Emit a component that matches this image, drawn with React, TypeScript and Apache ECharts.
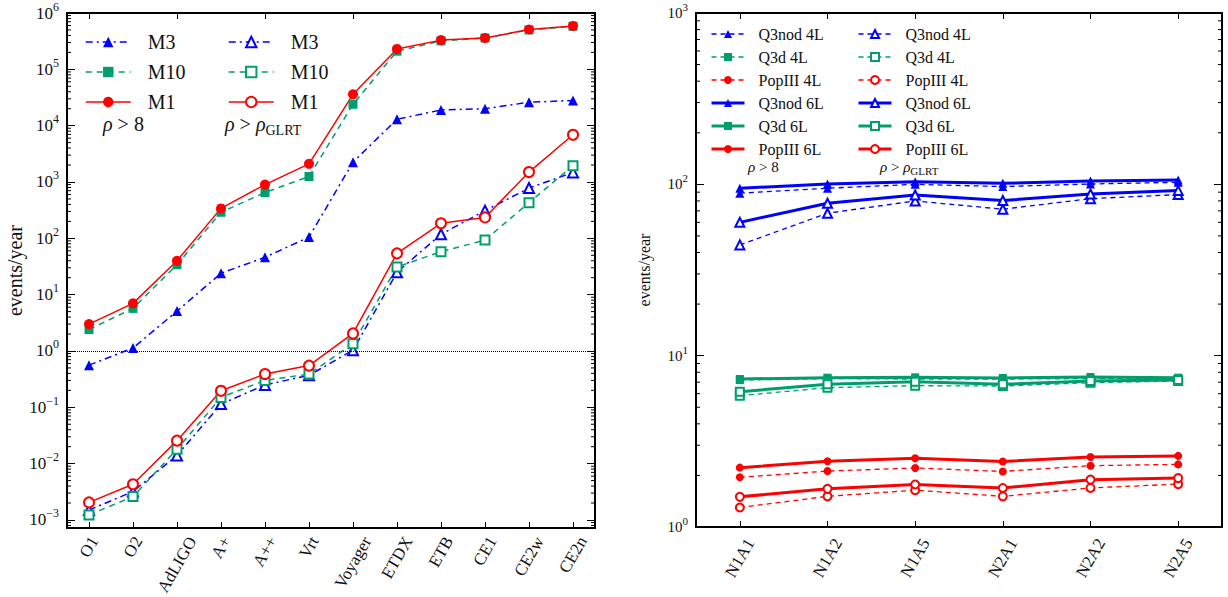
import React, { useEffect, useRef } from "react";
import * as echarts from "echarts";

// ---------------- data ----------------
const leftCategories = ["O1", "O2", "AdLIGO", "A+", "A++", "Vrt", "Voyager", "ETDX", "ETB", "CE1", "CE2w", "CE2n"];
const m3Snr8 = [0.56, 1.13, 5.1, 24, 46, 105, 2250, 13000, 19000, 20000, 26000, 28000];
const m10Snr8 = [2.4, 5.7, 34, 290, 650, 1250, 24000, 210000, 320000, 360000, 500000, 580000];
const m1Snr8 = [3.0, 7.0, 40, 340, 900, 2100, 36000, 230000, 330000, 360000, 510000, 590000];
const m3Glrt = [0.0015, 0.0032, 0.014, 0.114, 0.25, 0.37, 1.03, 25, 118, 310, 780, 1480];
const m10Glrt = [0.00123, 0.0026, 0.018, 0.15, 0.3, 0.39, 1.35, 31, 58, 93, 430, 1950];
const m1Glrt = [0.00205, 0.0043, 0.0256, 0.197, 0.39, 0.55, 2.05, 54, 185, 235, 1500, 6900];

const rightCategories = ["N1A1", "N1A2", "N1A5", "N2A1", "N2A2", "N2A5"];
const q3nod4LSnr8 = [88.7, 94.9, 100, 97, 100.5, 102.8];
const q3d4LSnr8 = [7.2, 7.35, 7.3, 7.3, 7.35, 7.35];
const pop4LSnr8 = [1.95, 2.12, 2.21, 2.11, 2.28, 2.32];
const q3nod6LSnr8 = [94.9, 100.5, 103.7, 101.4, 104.7, 106];
const q3d6LSnr8 = [7.31, 7.44, 7.48, 7.41, 7.51, 7.44];
const pop6LSnr8 = [2.22, 2.42, 2.52, 2.41, 2.56, 2.6];
const q3nod4LGlrt = [44.3, 67.8, 80, 71.6, 82.5, 87.1];
const q3d4LGlrt = [5.84, 6.5, 6.68, 6.65, 6.96, 7.11];
const pop4LGlrt = [1.3, 1.51, 1.64, 1.51, 1.69, 1.78];
const q3nod6LGlrt = [60, 77.6, 86.7, 80.4, 87.9, 91.9];
const q3d6LGlrt = [6.16, 6.81, 7.05, 6.81, 7.11, 7.21];
const pop6LGlrt = [1.5, 1.67, 1.77, 1.69, 1.89, 1.93];

const leftYMin = 0.00072;
const leftYMax = 1e6;
const rightYMin = 1;
const rightYMax = 1000;

// ---------------- style ----------------
const SERIF = '"Liberation Serif", "DejaVu Serif", serif';
const TXT = "#111";
const BLUE = "#0000ff";
const GREEN = "#009e6e";
const RED = "#ff0000";
const ZW = "\u200b";

function logLabel(v: number) {
  const e = Math.log10(v);
  const r = Math.round(e);
  if (Math.abs(e - r) > 1e-6) return "";
  const s = r < 0 ? "\u2212" + -r : String(r);
  return `{b|10}{s|${s}}`;
}

function logRich(size: number) {
  return {
    b: { fontSize: size, fontFamily: SERIF, color: TXT, lineHeight: size + 8 },
    s: { fontSize: Math.round(size * 0.7), fontFamily: SERIF, color: TXT, verticalAlign: "top" as const },
  };
}

function rotatedLabels(cats: string[], size: number) {
  const ctx = document.createElement("canvas").getContext("2d")!;
  ctx.font = `${size}px ${SERIF}`;
  const rich: Record<string, any> = {};
  cats.forEach((c, i) => {
    const L = ctx.measureText(c).width;
    rich["c" + i] = {
      fontSize: size,
      fontFamily: SERIF,
      color: TXT,
      padding: [0.433 * L, 0.75 * L, 0, 0],
    };
  });
  return { rich, formatter: (v: string, i: number) => `{c${i}|${v}}` };
}

function minorValues(min: number, max: number) {
  const out: number[][] = [];
  for (let e = Math.floor(Math.log10(min)); e < Math.ceil(Math.log10(max)); e++) {
    for (let m = 2; m <= 9; m++) {
      const v = m * Math.pow(10, e);
      if (v > min && v < max) out.push([0, v]);
    }
  }
  return out;
}

function minorSeries(xi: number, yi: number, min: number, max: number) {
  return {
    type: "custom",
    xAxisIndex: xi,
    yAxisIndex: yi,
    silent: true,
    z: 10,
    data: minorValues(min, max),
    renderItem: (params: any, api: any) => {
      const y = api.coord([0, api.value(1)])[1];
      const cs = params.coordSys;
      const st = { stroke: "#000", lineWidth: 1 };
      return {
        type: "group",
        children: [
          { type: "line", shape: { x1: cs.x, y1: y, x2: cs.x + 4, y2: y }, style: st },
          { type: "line", shape: { x1: cs.x + cs.width - 4, y1: y, x2: cs.x + cs.width, y2: y }, style: st },
        ],
      };
    },
  };
}

function line(
  name: string,
  data: number[],
  color: string,
  symbol: string,
  dash: any,
  width: number,
  size: number,
  xi: number,
  yi: number,
  extra: any = {}
) {
  const empty = symbol.startsWith("empty");
  return {
    type: "line",
    name,
    data,
    xAxisIndex: xi,
    yAxisIndex: yi,
    symbol,
    symbolSize: size,
    showAllSymbol: true,
    silent: true,
    lineStyle: { color, width, type: dash },
    itemStyle: { color, borderColor: color, borderWidth: empty ? 1.3 : 0 },
    emphasis: { disabled: true },
    ...extra,
  };
}

function catAxis(cats: string[], gi: number, pos: "bottom" | "top", labelSize: number, margin: number) {
  const lab = rotatedLabels(cats, labelSize);
  return {
    type: "category",
    gridIndex: gi,
    position: pos,
    data: cats,
    boundaryGap: true,
    axisLine: { show: true, onZero: false, lineStyle: { color: "#000", width: 2 } },
    axisTick: { show: true, inside: true, alignWithLabel: true, length: 6, lineStyle: { color: "#000", width: 1 } },
    axisLabel:
      pos === "bottom"
        ? {
            show: true,
            interval: 0,
            rotate: 60,
            align: "center",
            verticalAlign: "middle",
            margin,
            rich: lab.rich,
            formatter: lab.formatter,
          }
        : { show: false },
    splitLine: { show: false },
  };
}

function logAxis(gi: number, pos: "left" | "right", min: number, max: number, labelSize: number, nameSize: number, nameGap: number) {
  return {
    type: "log",
    logBase: 10,
    gridIndex: gi,
    position: pos,
    min,
    max,
    splitNumber: 10,
    name: pos === "left" ? "events/year" : "",
    nameLocation: "middle",
    nameGap,
    nameTextStyle: { fontFamily: SERIF, fontSize: nameSize, color: TXT },
    axisLine: { show: true, lineStyle: { color: "#000", width: 2 } },
    axisTick: { show: true, inside: true, length: 8, lineStyle: { color: "#000", width: 1 } },
    axisLabel:
      pos === "left"
        ? { show: true, margin: 8, formatter: logLabel, rich: logRich(labelSize) }
        : { show: false },
    splitLine: { show: false },
    minorTick: { show: false },
  };
}

const legendFormatter = (n: string) => `{t|${n.replace(/\u200b/g, "")}}`;

function legend(names: string[], left: number, top: number, itemWidth: number, itemHeight: number, itemGap: number, font: number, pad: number) {
  return {
    data: names,
    orient: "vertical",
    left,
    top,
    itemWidth,
    itemHeight,
    itemGap,
    selectedMode: false,
    padding: 0,
    lineStyle: { width: "inherit" },
    formatter: legendFormatter,
    textStyle: {
      fontFamily: SERIF,
      fontSize: font,
      color: TXT,
      rich: { t: { fontFamily: SERIF, fontSize: font, color: TXT, padding: [0, 0, 0, pad] } },
    },
  };
}

function rhoText(x: number, y: number, size: number, glrt: boolean) {
  return {
    type: "text",
    left: x,
    top: y - size * 0.6,
    silent: true,
    style: {
      text: glrt ? "{i|ρ} {n|>} {i|ρ}{g|GLRT}" : "{i|ρ} {n|>} {n|8}",
      fontFamily: SERIF,
      fontSize: size,
      fill: TXT,
      rich: {
        i: { fontFamily: SERIF, fontSize: size, fontStyle: "italic", fill: TXT, lineHeight: size * 1.3 },
        n: { fontFamily: SERIF, fontSize: size, fill: TXT, lineHeight: size * 1.3 },
        g: { fontFamily: SERIF, fontSize: Math.round(size * 0.7), fill: TXT, verticalAlign: "bottom", lineHeight: size * 0.8 },
      },
    },
  };
}

export default function App() {
  const ref = useRef<HTMLDivElement>(null);
  useEffect(() => {
    if (!ref.current) return;
    const chart = echarts.init(ref.current, null, { renderer: "svg" });

    const dashDot = [7, 4, 2, 4];
    const dashL = [6, 5];
    const dashR = [5, 4];

    const series: any[] = [
      line("M3", m3Snr8, BLUE, "triangle", dashDot, 1.5, 10, 0, 0, {
        markLine: {
          silent: true,
          symbol: ["none", "none"],
          label: { show: false },
          lineStyle: { type: "dotted", color: "#000", width: 1 },
          data: [{ yAxis: 1 }],
        },
      }),
      line("M10", m10Snr8, GREEN, "rect", dashL, 1.5, 9, 0, 0),
      line("M1", m1Snr8, RED, "circle", "solid", 1.5, 10, 0, 0),
      line("M3" + ZW, m3Glrt, BLUE, "emptyTriangle", dashDot, 1.5, 10, 0, 0),
      line("M10" + ZW, m10Glrt, GREEN, "emptyRect", dashL, 1.5, 9, 0, 0),
      line("M1" + ZW, m1Glrt, RED, "emptyCircle", "solid", 1.5, 10, 0, 0),

      line("Q3nod 4L", q3nod4LSnr8, BLUE, "triangle", dashR, 1.3, 9, 2, 2),
      line("Q3d 4L", q3d4LSnr8, GREEN, "rect", dashR, 1.3, 8, 2, 2),
      line("PopIII 4L", pop4LSnr8, RED, "circle", dashR, 1.3, 8, 2, 2),
      line("Q3nod 6L", q3nod6LSnr8, BLUE, "triangle", "solid", 3, 9, 2, 2),
      line("Q3d 6L", q3d6LSnr8, GREEN, "rect", "solid", 3, 8, 2, 2),
      line("PopIII 6L", pop6LSnr8, RED, "circle", "solid", 3, 8, 2, 2),
      line("Q3nod 4L" + ZW, q3nod4LGlrt, BLUE, "emptyTriangle", dashR, 1.3, 9, 2, 2),
      line("Q3d 4L" + ZW, q3d4LGlrt, GREEN, "emptyRect", dashR, 1.3, 8, 2, 2),
      line("PopIII 4L" + ZW, pop4LGlrt, RED, "emptyCircle", dashR, 1.3, 8, 2, 2),
      line("Q3nod 6L" + ZW, q3nod6LGlrt, BLUE, "emptyTriangle", "solid", 3, 9, 2, 2),
      line("Q3d 6L" + ZW, q3d6LGlrt, GREEN, "emptyRect", "solid", 3, 8, 2, 2),
      line("PopIII 6L" + ZW, pop6LGlrt, RED, "emptyCircle", "solid", 3, 8, 2, 2),

      minorSeries(0, 0, leftYMin, leftYMax),
      minorSeries(2, 2, rightYMin, rightYMax),
    ];

    chart.setOption({
      animation: false,
      backgroundColor: "#fff",
      grid: [
        { left: 67, top: 13, width: 528, height: 515, outerBoundsMode: "none", containLabel: false },
        { left: 696, top: 13, width: 526, height: 514, outerBoundsMode: "none", containLabel: false },
      ],
      xAxis: [
        catAxis(leftCategories, 0, "bottom", 17, 10),
        catAxis(leftCategories, 0, "top", 17, 10),
        catAxis(rightCategories, 1, "bottom", 17, 13),
        catAxis(rightCategories, 1, "top", 17, 13),
      ],
      yAxis: [
        logAxis(0, "left", leftYMin, leftYMax, 17, 20, 42),
        logAxis(0, "right", leftYMin, leftYMax, 17, 20, 42),
        logAxis(1, "left", rightYMin, rightYMax, 15, 16, 44),
        logAxis(1, "right", rightYMin, rightYMax, 15, 16, 44),
      ],
      legend: [
        legend(["M3", "M10", "M1"], 85, 32, 45, 13, 10, 20, 12),
        legend(["M3" + ZW, "M10" + ZW, "M1" + ZW], 228, 32, 45, 13, 10, 20, 12),
        legend(["Q3nod 4L", "Q3d 4L", "PopIII 4L", "Q3nod 6L", "Q3d 6L", "PopIII 6L"], 710, 26, 33, 10, 7, 16, 9),
        legend(
          ["Q3nod 4L", "Q3d 4L", "PopIII 4L", "Q3nod 6L", "Q3d 6L", "PopIII 6L"].map((n) => n + ZW),
          857, 26, 33, 10, 7, 16, 9
        ),
      ],
      graphic: [
        rhoText(103, 126, 20, false),
        rhoText(225, 126, 20, true),
        rhoText(748, 168, 15, false),
        rhoText(880, 168, 15, true),
      ],
      series,
    });
    return () => chart.dispose();
  }, []);
  return (
    <div
      ref={ref}
      style={{ position: "fixed", left: 0, top: 0, width: 1228, height: 597, background: "#fff" }}
    />
  );
}
